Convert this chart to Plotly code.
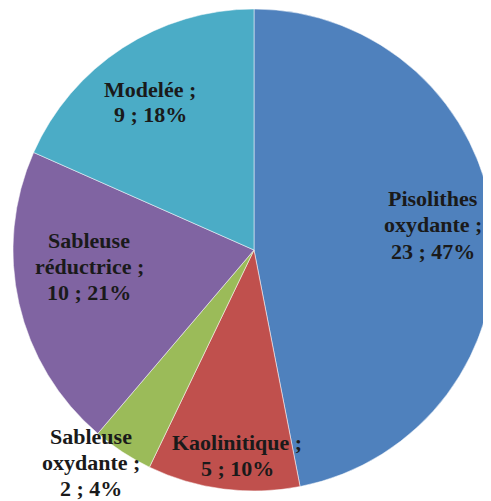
import plotly.graph_objects as go

categories = ["Pisolithes oxydante", "Kaolinitique", "Sableuse oxydante", "Sableuse réductrice", "Modelée"]
values = [23, 5, 2, 10, 9]
label_lines = [
    ["Pisolithes", "oxydante ;", "23 ; 47%"],
    ["Kaolinitique ;", "5 ; 10%"],
    ["Sableuse", "oxydante ;", "2 ; 4%"],
    ["Sableuse", "réductrice ;", "10 ; 21%"],
    ["Modelée ;", "9 ; 18%"],
]
colors = ["#4F81BD", "#C0504D", "#9BBB59", "#8064A2", "#4BACC6"]

# page body has an 8px margin; work in figure pixel coordinates
OFF = 8
W, H = 490, 493
cx, cy, r = 254 - OFF, 250 - OFF, 241

fig = go.Figure(go.Pie(
    labels=categories,
    values=values,
    sort=False,
    direction="clockwise",
    rotation=0,
    textinfo="none",
    hoverinfo="label+value+percent",
    marker=dict(colors=colors, line=dict(color="white", width=0.5)),
    domain=dict(x=[(cx - r) / W, (cx + r) / W],
                y=[(H - cy - r) / H, (H - cy + r) / H]),
    showlegend=False,
))

# label block positions in screenshot pixels: (center x, first line y)
label_pos = [(433, 199), (237, 442), (91, 436), (89, 240), (150, 89)]
LINE = 26
for lines, (px, py) in zip(label_lines, label_pos):
    for i, line in enumerate(lines):
        fig.add_annotation(
            x=(px - OFF) / W, y=1 - (py - OFF + i * LINE) / H,
            xref="paper", yref="paper",
            text="<b>" + line + "</b>", showarrow=False,
            font=dict(family="Liberation Serif, Times New Roman, serif", size=22, color="#1a1a1a"),
            align="center", xanchor="center", yanchor="middle",
        )

fig.update_layout(
    width=W, height=H,
    margin=dict(l=0, r=0, t=0, b=0),
    paper_bgcolor="white", plot_bgcolor="white",
)

fig.write_html("out.html")
